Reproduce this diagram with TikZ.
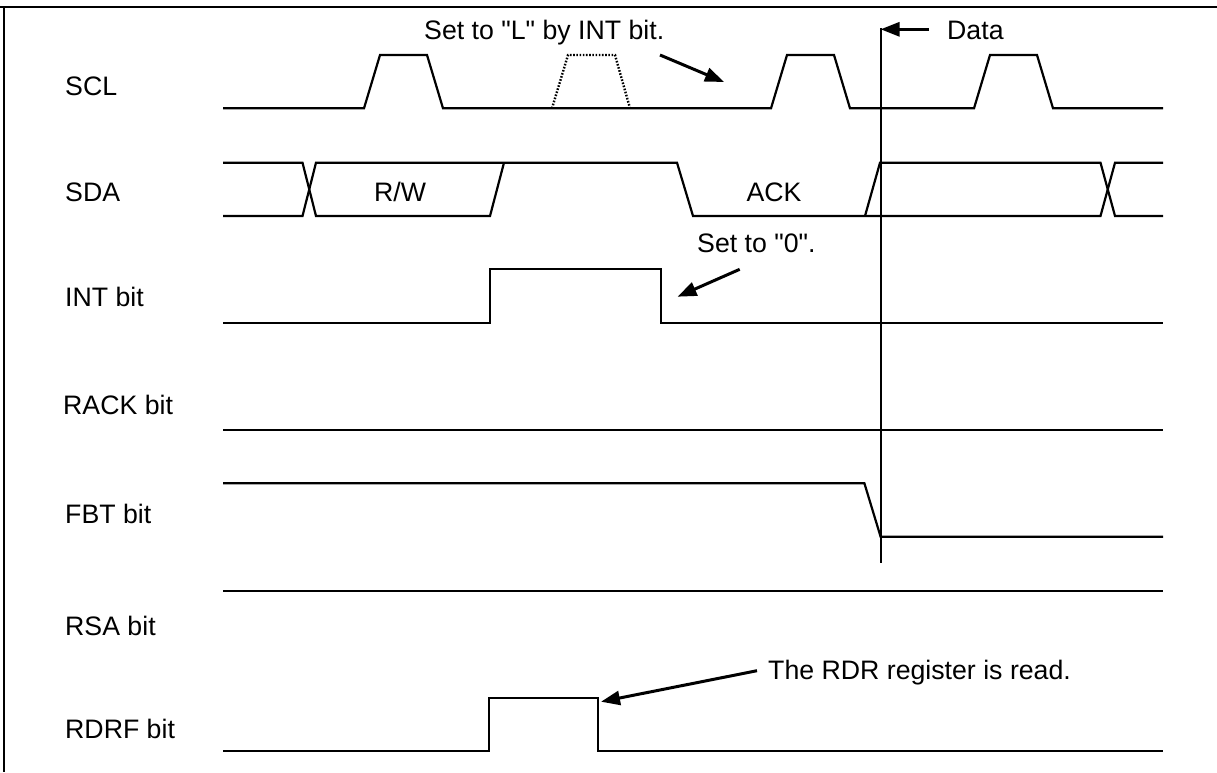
\documentclass[tikz,border=0pt]{standalone}
\usepackage{fontspec}
\setmainfont{Liberation Sans}[Ligatures=TeXOff]
\usetikzlibrary{arrows.meta}
\begin{document}
\begin{tikzpicture}[x=1pt,y=-1pt,
  sig/.style={line width=2.2pt, line join=miter},
  dotline/.style={line width=2.4pt, dash pattern=on 1.6pt off 1.6pt},
  frm/.style={line width=2.8pt},
  lbl/.style={anchor=base west, inner sep=0pt, font=\fontsize{26.7}{32}\selectfont},
  lblc/.style={anchor=base, inner sep=0pt, font=\fontsize{26.7}{32}\selectfont},
  ptr/.style={line width=3pt, -{Triangle[length=19pt,width=14pt]}},
  ]
\useasboundingbox (0,0) rectangle (1217,772);
% frame
\draw[frm] (0,7) -- (1217,7);
\draw[frm] (4,7) -- (4,772);
% signal names
\node[lbl] (scl)  at (65,95)  {SCL};
\node[lbl] (sda)  at (65,201) {SDA};
\node[lbl] (int)  at (65,306) {INT bit};
\node[lbl] (rack) at (63,414) {RACK bit};
\node[lbl] (fbt)  at (65,523) {FBT bit};
\node[lbl] (rsa)  at (65,635) {RSA bit};
\node[lbl] (rdrf) at (65,738) {RDRF bit};
% SCL
\draw[sig] (223,108.3) -- (364,108.3) -- (380,55) -- (427,55) -- (443,108.3)
  -- (771,108.3) -- (787,55) -- (834,55) -- (850,108.3)
  -- (974,108.3) -- (990,55) -- (1037,55) -- (1053,108.3) -- (1163,108.3);
\draw[dotline] (552,108.3) -- (568,55) -- (615,55) -- (630,108.3);
% SDA
\draw[sig] (223,162.7) -- (302.5,162.7) -- (316,216) -- (490,216) -- (504,162.7);
\draw[sig] (223,216) -- (302.5,216) -- (316,162.7) -- (677,162.7) -- (693,216)
  -- (1100.5,216) -- (1115,162.7) -- (1163,162.7);
\draw[sig] (865,216) -- (880,162.7) -- (1100.5,162.7) -- (1115,216) -- (1163,216);
\node[lblc] (rw)  at (400,201) {R/W};
\node[lblc] (ack) at (774,201) {ACK};
% INT bit
\draw[sig] (223,322.7) -- (490,322.7) -- (490,269.3) -- (661,269.3) -- (661,322.7) -- (1163,322.7);
% RACK bit
\draw[sig] (223,430) -- (1163,430);
% FBT bit
\draw[sig] (223,483.3) -- (864.4,483.3) -- (880.6,536.7) -- (1163,536.7);
% RSA bit
\draw[sig] (223,590.7) -- (1163,590.7);
% RDRF bit
\draw[sig] (223,751) -- (489,751) -- (489,698) -- (597.6,698) -- (597.6,751) -- (1163,751);
% timing marker
\coordinate (vtop) at (880.6,28);
\coordinate (vbot) at (880.6,563);
\draw[sig] (vtop) -- (vbot);
% annotations
\node[lbl] (setl) at (424,39.3) {Set to "L" by INT bit.};
\node[lbl] (data) at (947,39.3) {Data};
\node[lbl] (set0) at (697,252.5) {Set to "0".};
\node[lbl] (rdr)  at (768,679) {The RDR register is read.};
\coordinate (dA) at (929,29.3);   \coordinate (dB) at (880.6,29.3);
\coordinate (lA) at (660,55);     \coordinate (lB) at (724,82);
\coordinate (zA) at (739.7,269.3);\coordinate (zB) at (677.5,296.7);
\coordinate (rA) at (757,670.7);  \coordinate (rB) at (601,701.7);
\draw[ptr] (dA) -- (dB);
\draw[ptr] (lA) -- (lB);
\draw[ptr] (zA) -- (zB);
\draw[ptr] (rA) -- (rB);
\end{tikzpicture}
\end{document}
